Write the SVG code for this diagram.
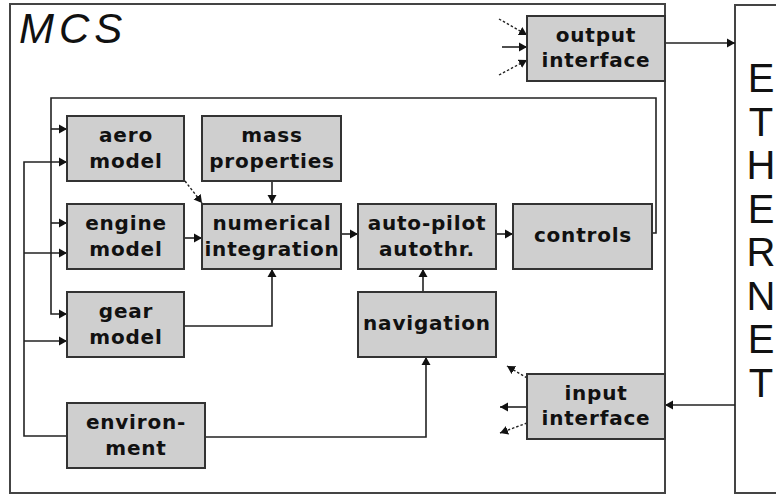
<svg xmlns="http://www.w3.org/2000/svg" width="776" height="495" viewBox="0 0 776 495">
<style>
.frame{fill:#fff;stroke:#444;stroke-width:2}
.box{fill:#cfcfcf;stroke:#333;stroke-width:2}
.lbl{font-family:"DejaVu Sans","Verdana",sans-serif;font-weight:bold;font-size:20px;fill:#111;text-anchor:middle;letter-spacing:0.8px}
.ln{fill:none;stroke:#222;stroke-width:1.6}
.dash{fill:none;stroke:#222;stroke-width:1.4;stroke-dasharray:2.5 2}
.big{font-family:"Liberation Sans",Arial,sans-serif;font-size:40px;fill:#111;text-anchor:middle}
</style>
<defs>
<marker id="ah" markerUnits="userSpaceOnUse" markerWidth="9" markerHeight="10" refX="8" refY="5" orient="auto">
<path d="M0,0.5 L8,5 L0,9.5 z" fill="#111"/>
</marker>
</defs>
<rect width="776" height="495" fill="#fff"/>
<g id="mcs">
<rect class="frame" x="10" y="4" width="655" height="489"/>
<text x="19" y="43" font-family="'Liberation Sans',Arial,sans-serif" font-style="italic" font-size="42" letter-spacing="5" fill="#111">MCS</text>
</g>
<g id="ethernet">
<path d="M776,5 H735 V493 H776" fill="#fff" stroke="#444" stroke-width="2"/>
<text class="big"><tspan x="761" y="92">E</tspan><tspan x="761" y="135.5">T</tspan><tspan x="761" y="179">H</tspan><tspan x="761" y="222.5">E</tspan><tspan x="761" y="266">R</tspan><tspan x="761" y="309.5">N</tspan><tspan x="761" y="353">E</tspan><tspan x="761" y="396.5">T</tspan></text>
</g>
<g id="connectors">
<path class="ln" d="M652,233 H656 V98 H51 V314 H67" marker-end="url(#ah)"/>
<path class="ln" d="M51,129 H67" marker-end="url(#ah)"/>
<path class="ln" d="M51,223 H67" marker-end="url(#ah)"/>
<path class="ln" d="M67,436 H24 V162 H67" marker-end="url(#ah)"/>
<path class="ln" d="M24,253 H67" marker-end="url(#ah)"/>
<path class="ln" d="M24,341 H67" marker-end="url(#ah)"/>
<path class="dash" d="M185,181 L202,203" marker-end="url(#ah)"/>
<path class="ln" d="M272,181 V203" marker-end="url(#ah)"/>
<path class="ln" d="M184,238 H202" marker-end="url(#ah)"/>
<path class="ln" d="M184,326 H272 V269" marker-end="url(#ah)"/>
<path class="ln" d="M341,234 H358" marker-end="url(#ah)"/>
<path class="ln" d="M496,234 H513" marker-end="url(#ah)"/>
<path class="ln" d="M423,292 V269" marker-end="url(#ah)"/>
<path class="ln" d="M205,437 H426 V357" marker-end="url(#ah)"/>
<path class="ln" d="M665,43 H735" marker-end="url(#ah)"/>
<path class="ln" d="M735,405 H665" marker-end="url(#ah)"/>
<path class="dash" d="M499,19 L527,35" marker-end="url(#ah)"/>
<path class="ln" d="M502,47 H527" marker-end="url(#ah)"/>
<path class="dash" d="M499,75 L527,60" marker-end="url(#ah)"/>
<path class="dash" d="M527,378 L507,366" marker-end="url(#ah)"/>
<path class="ln" d="M527,407 H500" marker-end="url(#ah)"/>
<path class="dash" d="M527,423 L500,433" marker-end="url(#ah)"/>
</g>
<g id="aero"><rect class="box" x="67" y="116" width="117" height="65"/><text class="lbl" x="126" y="142">aero</text><text class="lbl" x="126" y="168">model</text></g>
<g id="mass"><rect class="box" x="202" y="116" width="139" height="65"/><text class="lbl" x="272" y="142">mass</text><text class="lbl" x="272" y="168">properties</text></g>
<g id="engine"><rect class="box" x="67" y="204" width="117" height="65"/><text class="lbl" x="126" y="230">engine</text><text class="lbl" x="126" y="256">model</text></g>
<g id="numerical"><rect class="box" x="202" y="204" width="139" height="65"/><text class="lbl" x="272" y="230">numerical</text><text class="lbl" x="272" y="256">integration</text></g>
<g id="autopilot"><rect class="box" x="358" y="204" width="138" height="65"/><text class="lbl" x="427" y="230">auto-pilot</text><text class="lbl" x="427" y="256">autothr.</text></g>
<g id="controls"><rect class="box" x="513" y="204" width="139" height="65"/><text class="lbl" x="583" y="242">controls</text></g>
<g id="gear"><rect class="box" x="67" y="292" width="117" height="65"/><text class="lbl" x="126" y="318">gear</text><text class="lbl" x="126" y="344">model</text></g>
<g id="navigation"><rect class="box" x="358" y="292" width="138" height="65"/><text class="lbl" x="427" y="330">navigation</text></g>
<g id="environment"><rect class="box" x="67" y="403" width="138" height="65"/><text class="lbl" x="136" y="429">environ-</text><text class="lbl" x="136" y="455">ment</text></g>
<g id="output"><rect class="box" x="527" y="16" width="138" height="65"/><text class="lbl" x="596" y="42">output</text><text class="lbl" x="596" y="67">interface</text></g>
<g id="input"><rect class="box" x="527" y="374" width="138" height="65"/><text class="lbl" x="596" y="400">input</text><text class="lbl" x="596" y="425">interface</text></g>
</svg>
